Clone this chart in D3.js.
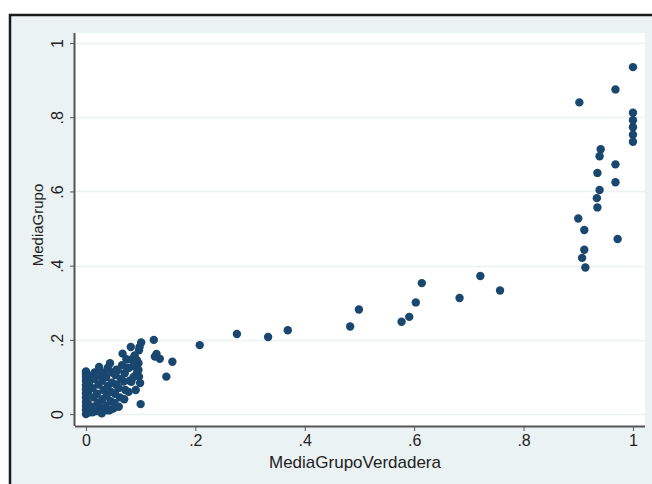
<!DOCTYPE html>
<html>
<head>
<meta charset="utf-8">
<script src="https://cdn.jsdelivr.net/npm/d3@7"></script>
<style>
  body { margin: 0; background: #fff; }
  text { font-family: "Liberation Sans", Arial, sans-serif; fill: #222; }
</style>
</head>
<body>
<svg width="652" height="484"></svg>
<script>
// data
var xTicks = [0, 0.2, 0.4, 0.6, 0.8, 1];
var yTicks = [0, 0.2, 0.4, 0.6, 0.8, 1];
var tickLabels = ["0", ".2", ".4", ".6", ".8", "1"];

// MediaGrupoVerdadera
var xVals = [
  0, 0, 0, 0, 0, 0, 0, 0, 0, 0, 0, 0,
  0.005, 0.004, 0.006, 0.003, 0.004,
  0.012, 0.013, 0.014, 0.012, 0.015, 0.016,
  0.02, 0.022, 0.02, 0.023, 0.025, 0.024, 0.019,
  0.028, 0.03, 0.032, 0.03, 0.033, 0.029,
  0.036, 0.038, 0.04, 0.037, 0.04, 0.041,
  0.044, 0.045, 0.046, 0.047, 0.044, 0.048,
  0.052, 0.053, 0.055, 0.054, 0.056, 0.05,
  0.06, 0.062, 0.06, 0.064, 0.066, 0.067, 0.058,
  0.07, 0.072, 0.071, 0.074, 0.069, 0.075,
  0.078, 0.08, 0.079, 0.082, 0.083, 0.084,
  0.087, 0.088, 0.09, 0.091, 0.093, 0.096, 0.097, 0.099, 0.096, 0.093, 0.097, 0.101, 0.098, 0.1, 0.089,
  0.124, 0.126, 0.129, 0.135, 0.147, 0.158,
  0.208, 0.276, 0.333, 0.369, 0.483, 0.499, 0.577, 0.591, 0.603, 0.614, 0.683, 0.721, 0.757,
  1.0, 0.968, 0.902, 1.0, 1.0, 1.0, 1.0, 1.0,
  0.941, 0.939, 0.968, 0.935, 0.968, 0.939, 0.934, 0.935,
  0.900, 0.911, 0.972, 0.911, 0.907, 0.913
];

// MediaGrupo
var yVals = [
  0, 0.012, 0.022, 0.033, 0.045, 0.056, 0.067, 0.078, 0.09, 0.1, 0.108, 0.115,
  0.004, 0.06, 0.085, 0.03, 0.105,
  0.005, 0.02, 0.045, 0.07, 0.095, 0.112,
  0.008, 0.03, 0.055, 0.08, 0.105, 0.127, 0.018,
  0.015, 0.04, 0.065, 0.09, 0.112, 0.002,
  0.022, 0.05, 0.075, 0.1, 0.125, 0.01,
  0.011, 0.035, 0.06, 0.085, 0.137, 0.112,
  0.03, 0.055, 0.08, 0.105, 0.12, 0.015,
  0.02, 0.045, 0.07, 0.095, 0.132, 0.163, 0.118,
  0.04, 0.065, 0.11, 0.148, 0.088, 0.125,
  0.06, 0.09, 0.125, 0.181, 0.087, 0.148,
  0.1, 0.14, 0.128, 0.065, 0.11, 0.119, 0.101, 0.084, 0.137, 0.146, 0.172, 0.193, 0.181, 0.027, 0.158,
  0.2, 0.155, 0.162, 0.149, 0.101, 0.141,
  0.186, 0.216, 0.208, 0.226, 0.236, 0.282, 0.249, 0.262, 0.301, 0.353, 0.313, 0.372, 0.333,
  0.935, 0.875, 0.840, 0.812, 0.792, 0.773, 0.753, 0.734,
  0.714, 0.695, 0.673, 0.650, 0.625, 0.604, 0.582, 0.557,
  0.527, 0.496, 0.472, 0.443, 0.421, 0.395
];

var points = xVals.map(function(d, i) { return { x: d, y: yVals[i] }; });

var svg = d3.select("svg");

// graph region
svg.append("rect")
    .attr("x", 10).attr("y", 15)
    .attr("width", 680).attr("height", 500)
    .attr("fill", "#eaf2f3")
    .attr("stroke", "#1a1a1a")
    .attr("stroke-width", 2.5);

var x = d3.scaleLinear().domain([-0.02, 1.022]).range([75, 645]),
    y = d3.scaleLinear().domain([-0.032, 1.027]).range([426, 33]);

// plot region
svg.append("rect")
    .attr("x", 75).attr("y", 33)
    .attr("width", 645 - 75).attr("height", 426 - 33)
    .attr("fill", "#fff");

// grid lines
svg.append("g").selectAll("line")
    .data(yTicks)
    .enter().append("line")
      .attr("x1", 75).attr("x2", 645)
      .attr("y1", function(d) { return Math.round(y(d)) + 0.5; })
      .attr("y2", function(d) { return Math.round(y(d)) + 0.5; })
      .attr("stroke", "#eaf2f3")
      .attr("stroke-width", 1.5);

// points
svg.append("g").selectAll("circle")
    .data(points)
    .enter().append("circle")
      .attr("cx", function(d) { return x(d.x); })
      .attr("cy", function(d) { return y(d.y); })
      .attr("r", 4.2)
      .attr("fill", "#1a476f");

// axes
var xAxis = d3.axisBottom(x).tickValues(xTicks).tickSize(5).tickPadding(4)
    .tickFormat(function(d, i) { return tickLabels[i]; });
var yAxis = d3.axisLeft(y).tickValues(yTicks).tickSize(5).tickPadding(4)
    .tickFormat(function(d, i) { return tickLabels[i]; });

var gx = svg.append("g").attr("transform", "translate(0,426)").call(xAxis);
gx.select(".domain").attr("d", "M75,0.5H645").attr("stroke", "#555").attr("stroke-width", 2);
gx.selectAll(".tick line").attr("stroke", "#555");
gx.selectAll(".tick text").attr("font-size", 16).attr("fill", "#222")
    .attr("font-family", "Liberation Sans, Arial, sans-serif");

var gy = svg.append("g").attr("transform", "translate(75,0)").call(yAxis);
gy.select(".domain").attr("d", "M-0.5,33V426").attr("stroke", "#555").attr("stroke-width", 2);
gy.selectAll(".tick line").attr("stroke", "#555");
gy.selectAll(".tick text")
    .attr("font-size", 16).attr("fill", "#222")
    .attr("font-family", "Liberation Sans, Arial, sans-serif")
    .attr("x", null).attr("dy", null)
    .attr("text-anchor", "middle")
    .attr("transform", "translate(-18,0) rotate(-90)")
    .attr("dy", "0.35em");

// axis titles
svg.append("text")
    .attr("x", 355).attr("y", 468)
    .attr("text-anchor", "middle")
    .attr("font-size", 17)
    .text("MediaGrupoVerdadera");

svg.append("text")
    .attr("transform", "translate(43,225) rotate(-90)")
    .attr("text-anchor", "middle")
    .attr("font-size", 15)
    .text("MediaGrupo");
</script>
</body>
</html>
